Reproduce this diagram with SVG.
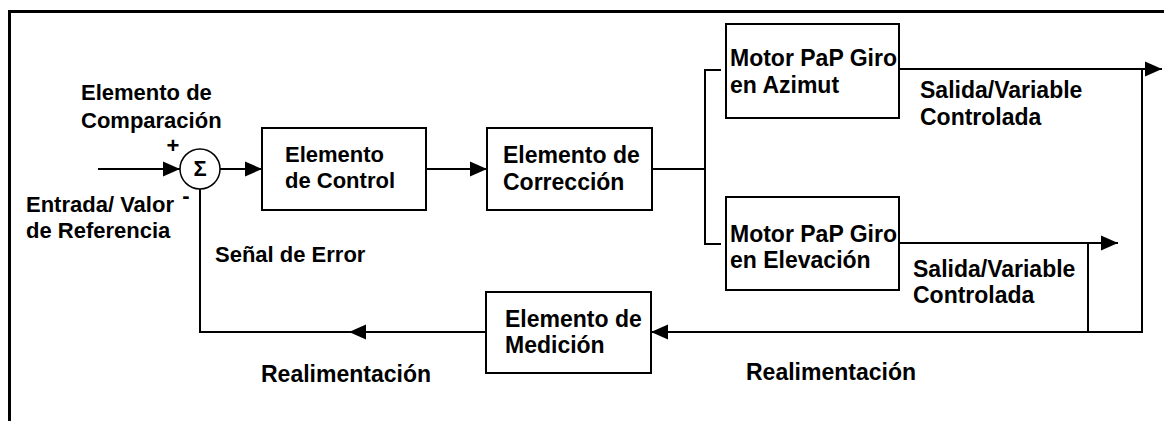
<svg xmlns="http://www.w3.org/2000/svg" width="1164" height="421" viewBox="0 0 1164 421">
<style>
  .box{fill:#fff;stroke:#000;stroke-width:2}
  .ln{fill:none;stroke:#000;stroke-width:2}
  .t{font-family:"Liberation Sans",Arial,sans-serif;font-weight:bold;font-size:22px;fill:#000}
  .b{font-size:23px}
  .frame{fill:none;stroke:#000;stroke-width:3}
</style>
<defs>
  <marker id="ah" markerWidth="18" markerHeight="16" refX="17" refY="8" orient="auto" markerUnits="userSpaceOnUse">
    <path d="M0,0.5 L17,8 L0,15.5 z" fill="#000"/>
  </marker>
</defs>
<rect width="1164" height="421" fill="#fff"/>
<path class="frame" d="M9.5,421 V11.5 H1164"/>

<g id="connectors">
  <path class="ln" d="M98,169 H180" marker-end="url(#ah)"/>
  <path class="ln" d="M220,169 H262" marker-end="url(#ah)"/>
  <path class="ln" d="M426,169 H487" marker-end="url(#ah)"/>
  <path class="ln" d="M652,169 H705"/>
  <path class="ln" d="M721,70 H705 V244 H721"/>
  <path class="ln" d="M899,69 H1162" marker-end="url(#ah)"/>
  <path class="ln" d="M899,243 H1118" marker-end="url(#ah)"/>
  <path class="ln" d="M1142,69 V332 H1088"/>
  <path class="ln" d="M1088,243 V332 H651" marker-end="url(#ah)"/>
  <path class="ln" d="M486,332 H349" marker-end="url(#ah)"/>
  <path class="ln" d="M350,332 H200 V189"/>
</g>

<g id="sum">
  <circle cx="200" cy="169" r="20" fill="#fff" stroke="#000" stroke-width="1.5"/>
  <text class="t" x="200" y="176" font-size="18" text-anchor="middle">Σ</text>
  <text class="t" x="173" y="153" font-size="16" text-anchor="middle">+</text>
  <text class="t" x="186" y="203" font-size="16" text-anchor="middle">-</text>
</g>

<g id="comparacion-label">
  <text class="t" x="81" y="100">Elemento de</text>
  <text class="t" x="81" y="128">Comparación</text>
</g>

<g id="entrada-label">
  <text class="t" x="26" y="212">Entrada/ Valor</text>
  <text class="t" x="26" y="238">de Referencia</text>
</g>

<g id="control">
  <rect class="box" x="262" y="128" width="164" height="82"/>
  <text class="t" x="285" y="162">Elemento</text>
  <text class="t" x="285" y="188">de Control</text>
</g>

<g id="correccion">
  <rect class="box" x="487" y="128" width="165" height="82"/>
  <text class="t b" x="503" y="163">Elemento de</text>
  <text class="t b" x="503" y="190">Corrección</text>
</g>

<g id="azimut">
  <rect class="box" x="726" y="24" width="173" height="94"/>
  <text class="t b" x="730" y="66">Motor PaP Giro</text>
  <text class="t b" x="730" y="93">en Azimut</text>
</g>

<g id="elevacion">
  <rect class="box" x="726" y="197" width="173" height="93"/>
  <text class="t b" x="730" y="242">Motor PaP Giro</text>
  <text class="t b" x="730" y="268">en Elevación</text>
</g>

<g id="medicion">
  <rect class="box" x="486" y="292" width="165" height="81"/>
  <text class="t b" x="505" y="327">Elemento de</text>
  <text class="t b" x="505" y="353">Medición</text>
</g>

<g id="labels">
  <text class="t b" x="920" y="98">Salida/Variable</text>
  <text class="t b" x="920" y="125">Controlada</text>
  <text class="t b" x="913" y="277">Salida/Variable</text>
  <text class="t b" x="913" y="303">Controlada</text>
  <text class="t" x="215" y="262">Señal de Error</text>
  <text class="t b" x="261" y="382">Realimentación</text>
  <text class="t b" x="746" y="380">Realimentación</text>
</g>
</svg>
